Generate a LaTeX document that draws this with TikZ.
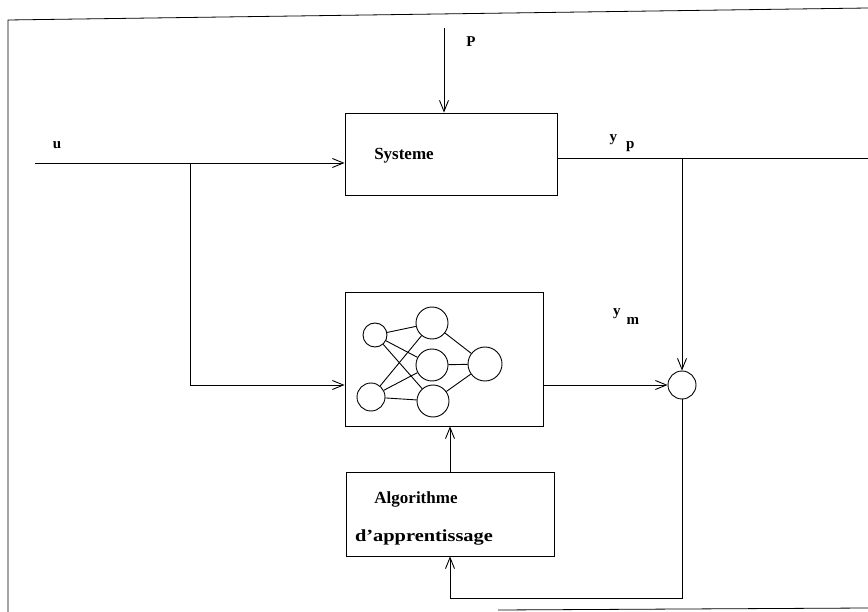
\documentclass[tikz,border=0pt]{standalone}
\usepackage{fontspec}
\setmainfont{Liberation Serif}
\usetikzlibrary{arrows.meta}
\begin{document}
\begin{tikzpicture}[x=1pt,y=-1pt,line width=0.9pt,
	bloc/.style={draw, rectangle, inner sep=0pt},
	neurone/.style={draw, circle, inner sep=0pt},
	fl/.style={-{Straight Barb[length=11pt,width=9pt]}},
	txt/.style={font=\fontsize{17}{20}\selectfont\bfseries, inner sep=0pt},
	lbl/.style={font=\fontsize{15}{18}\selectfont\bfseries, inner sep=0pt}]
	\useasboundingbox (0,0) rectangle (868,612);
	% Cadre
	\draw[line width=0.8pt] (868,8) -- (8,20) -- (8,612);
	\draw[line width=0.8pt] (498,610) -- (868,608);

	% Blocs
	\node[bloc, minimum width=212pt, minimum height=82pt] (sys) at (451,154) {};
	\node[bloc, minimum width=198pt, minimum height=134pt] (nn) at (444,359) {};
	\node[bloc, minimum width=208pt, minimum height=84pt] (algo) at (450,514) {};
	\node[neurone, minimum size=28pt] (sum) at (682,385) {};
	\node[txt] (tsys) at (404,156) {Systeme};
	\node[txt] (talg1) at (416,499) {Algorithme};
	\node[txt] (talg2) at (424,537) {\scalebox{1.2}[1]{d'apprentissage}};

	% Reseau de neurones
	\node[neurone, minimum size=24pt] (i1) at (375,335) {};
	\node[neurone, minimum size=28pt] (i2) at (371,397) {};
	\node[neurone, minimum size=32pt] (h1) at (432,323) {};
	\node[neurone, minimum size=32pt] (h2) at (432,365) {};
	\node[neurone, minimum size=32pt] (h3) at (433,401) {};
	\node[neurone, minimum size=34pt] (o) at (485,364) {};
	\foreach \a in {i1,i2}
		\foreach \b in {h1,h2,h3}
			\draw (\a) -- (\b);
	\foreach \b in {h1,h2,h3}
		\draw (\b) -- (o);

	% Signaux
	\coordinate (pin) at (444,28);
	\coordinate (uin) at (35,163);
	\coordinate (ub) at (190,163);
	\coordinate (yout) at (868,158);
	\coordinate (yb) at (682,158);
	\draw[fl] (pin) -- (pin |- sys.north);
	\draw[fl] (uin) -- (uin -| sys.west);
	\draw[fl] (ub) |- (nn.west |- sum);
	\draw (sys.east |- yout) -- (yout);
	\draw[fl] (yb) -- (sum);
	\draw[fl] (nn.east |- sum) -- (sum);
	\draw[fl] (algo.north) -- (algo.north |- nn.south);
	\draw[fl] (sum.south) |- ([yshift=-42pt]algo.south) -- (algo.south);

	% Etiquettes
	\node[lbl] (lu) at (57,145) {u};
	\node[lbl] (lp) at (471,42) {P};
	\node[lbl] (lyp) at (622,143) {y\hspace{9pt}\raisebox{-7pt}{p}};
	\node[lbl] (lym) at (626,317) {y\hspace{6pt}\raisebox{-9pt}{m}};
\end{tikzpicture}
\end{document}
